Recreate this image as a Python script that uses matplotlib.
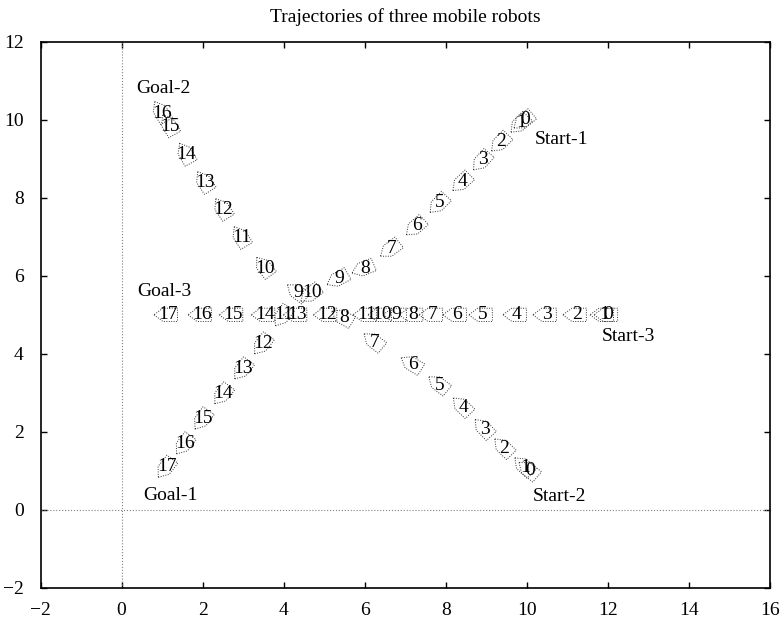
import numpy as np
import matplotlib
matplotlib.use('Agg')
import matplotlib.pyplot as plt
from matplotlib.patches import Polygon

matplotlib.rcParams.update({'font.family': 'Liberation Serif', 'font.size': 14})

# robot positions at each step (x, y), step number = index
robot1_x = [9.95, 9.85, 9.37, 8.91, 8.42, 7.85, 7.28, 6.66, 6.00, 5.37,
            4.69, 3.99, 3.49, 3.00, 2.51, 2.01, 1.56, 1.11]
robot1_y = [10.00, 9.92, 9.44, 8.97, 8.42, 7.87, 7.28, 6.71, 6.20, 5.94,
            5.56, 5.00, 4.27, 3.63, 2.99, 2.35, 1.71, 1.11]

robot2_x = [10.07, 9.95, 9.45, 8.96, 8.43, 7.85, 7.19, 6.25, 5.48, 4.36,
            3.54, 2.96, 2.51, 2.06, 1.60, 1.19, 0.99]
robot2_y = [1.00, 1.10, 1.58, 2.07, 2.63, 3.20, 3.72, 4.30, 4.92, 5.56,
            6.20, 6.97, 7.69, 8.38, 9.10, 9.83, 10.17]

robot3_x = [12.00, 11.90, 11.23, 10.49, 9.75, 8.91, 8.27, 7.68, 7.19, 6.79,
            6.42, 6.05, 5.07, 4.33, 3.54, 2.75, 1.98, 1.14]
robot3_y = [5.0] * 18

# text labels: (text, x, y)
end_labels = [('Start-1', 10.2, 9.5), ('Start-2', 10.15, 0.34), ('Start-3', 11.85, 4.45),
              ('Goal-1', 0.53, 0.38), ('Goal-2', 0.37, 10.81), ('Goal-3', 0.38, 5.6)]

xticks = np.arange(-2, 17, 2)
yticks = np.arange(-2, 13, 2)

# outline of a robot, pointing along +x
body = np.array([[0.34, 0.0], [0.12, 0.17], [-0.24, 0.17], [-0.24, -0.17], [0.12, -0.17]])


def draw_robot(ax, xs, ys):
    xs = np.asarray(xs)
    ys = np.asarray(ys)
    n = len(xs)
    for i in range(n):
        if i < n - 1:
            dx, dy = xs[i + 1] - xs[i], ys[i + 1] - ys[i]
        else:
            dx, dy = xs[i] - xs[i - 1], ys[i] - ys[i - 1]
        a = np.arctan2(dy, dx)
        rot = np.array([[np.cos(a), -np.sin(a)], [np.sin(a), np.cos(a)]])
        pts = body @ rot.T + [xs[i], ys[i]]
        ax.add_patch(Polygon(pts, closed=True, fill=False, ls=(0, (1, 1.5)),
                             lw=0.7, ec='#333333'))
        ax.text(xs[i], ys[i], str(i), ha='center', va='center', fontsize=14)


fig = plt.figure(figsize=(7.84, 6.23), dpi=100)
ax = fig.add_axes((0.0517, 0.0562, 0.9304, 0.8769))

ax.axhline(0, color='grey', ls=':', lw=0.8)
ax.axvline(0, color='grey', ls=':', lw=0.8)

draw_robot(ax, robot1_x, robot1_y)
draw_robot(ax, robot2_x, robot2_y)
draw_robot(ax, robot3_x, robot3_y)

for txt, x, y in end_labels:
    ax.text(x, y, txt, ha='left', va='center')

ax.set_xlim(-2, 16)
ax.set_ylim(-2, 12)
ax.set_xticks(xticks)
ax.set_yticks(yticks)
ax.tick_params(direction='in', length=4.5, width=1, top=True, right=True)
ax.tick_params(axis='x', pad=10)
ax.tick_params(axis='y', pad=12)
for s in ax.spines.values():
    s.set_linewidth(1.2)
ax.set_title('Trajectories of three mobile robots', fontsize=14, pad=14)

plt.savefig('out.png', dpi=100)
